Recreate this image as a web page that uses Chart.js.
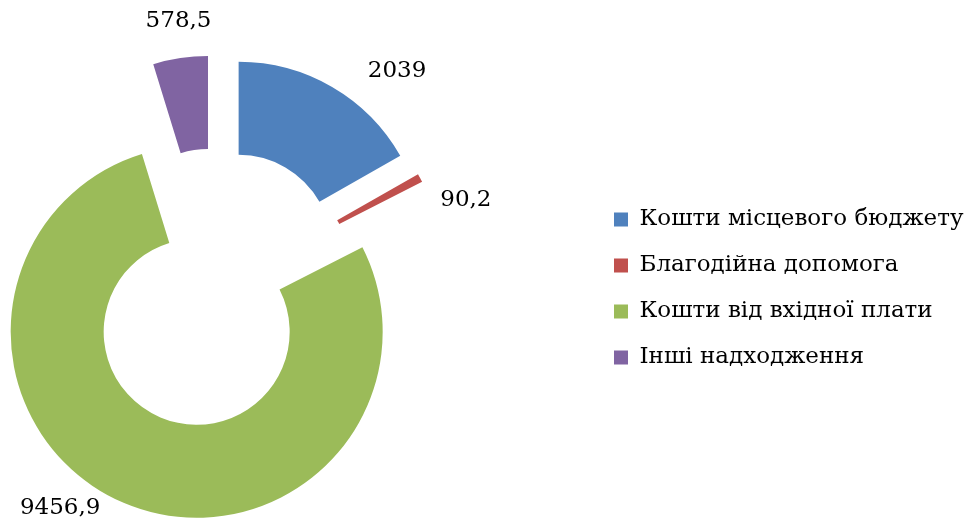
<!DOCTYPE html>
<html>
<head>
<meta charset="utf-8">
<script src="https://cdn.jsdelivr.net/npm/chart.js@4.4.1/dist/chart.umd.min.js"></script>
<style>
  html, body { margin: 0; padding: 0; background: #fff; overflow: hidden; }
  /* canvas starts left of the window so the ring sits where it does in the original */
  #wrap { position: absolute; left: -161px; top: 0; width: 1133px; height: 526px; }
</style>
</head>
<body>
<div id="wrap"><canvas id="chart"></canvas></div>
<script>
// funding sources
const categories = ['Кошти місцевого бюджету', 'Благодійна допомога', 'Кошти від вхідної плати', 'Інші надходження'];
const amounts = [2039, 90.2, 9456.9, 578.5];
const valueLabels = ['2039', '90,2', '9456,9', '578,5'];
const sliceColors = ['#4F81BD', '#C0504D', '#9BBB59', '#8064A2'];

const fontFamily = '"DejaVu Serif", serif';
const fontSize = 23;
const shiftX = 161;

// legend width -> right padding so the boxes start at x=614 on the page
const tmp = document.createElement('canvas').getContext('2d');
tmp.font = fontSize + 'px ' + fontFamily;
let maxText = 0;
categories.forEach(function(c) { maxText = Math.max(maxText, tmp.measureText(c).width); });
const legendPad = 23;
const legendWidth = legendPad + 14 + fontSize / 2 + maxText + 10;
const legendLeft = 614 + shiftX - legendPad;
const rightPad = 1133 - legendLeft - legendWidth;

// pull every slice out of the ring
const explode = 47;
const explodePlugin = {
    id: 'explode',
    afterDatasetsUpdate(chart) {
        const a = chart.chartArea;
        const cx = (a.left + a.right) / 2, cy = (a.top + a.bottom) / 2;
        chart.getDatasetMeta(0).data.forEach(function(arc) {
            const mid = (arc.startAngle + arc.endAngle) / 2;
            arc.x = cx + explode * Math.cos(mid);
            arc.y = cy + explode * Math.sin(mid);
        });
    }
};

// value labels outside the ring
const labelNudge = [[9.7, 284], [8.9, 266], [12.2, 269], [0.8, 270]]; // [deg, px]
const valuePlugin = {
    id: 'values',
    afterDatasetsDraw(chart) {
        const ctx = chart.ctx;
        const a = chart.chartArea;
        const cx = (a.left + a.right) / 2, cy = (a.top + a.bottom) / 2;
        ctx.save();
        ctx.font = '23px ' + fontFamily;
        ctx.fillStyle = '#000';
        ctx.textAlign = 'center';
        ctx.textBaseline = 'middle';
        chart.getDatasetMeta(0).data.forEach(function(arc, i) {
            const ang = (arc.startAngle + arc.endAngle) / 2 + labelNudge[i][0] * Math.PI / 180;
            ctx.fillText(valueLabels[i], cx + labelNudge[i][1] * Math.cos(ang), cy + labelNudge[i][1] * Math.sin(ang));
        });
        ctx.restore();
    }
};

new Chart(document.getElementById('chart'), {
    type: 'doughnut',
    data: {
        labels: categories,
        datasets: [{
            data: amounts,
            backgroundColor: sliceColors,
            borderWidth: 0
        }]
    },
    options: {
        responsive: true,
        maintainAspectRatio: false,
        animation: false,
        radius: 186,
        cutout: '50%',
        layout: { padding: { left: 0, top: 51, right: rightPad, bottom: 0 } },
        plugins: {
            legend: {
                position: 'right',
                labels: {
                    boxWidth: 14,
                    boxHeight: 14,
                    padding: legendPad,
                    color: '#000',
                    font: { family: fontFamily, size: fontSize }
                }
            },
            tooltip: { enabled: false }
        }
    },
    plugins: [explodePlugin, valuePlugin]
});
</script>
</body>
</html>
